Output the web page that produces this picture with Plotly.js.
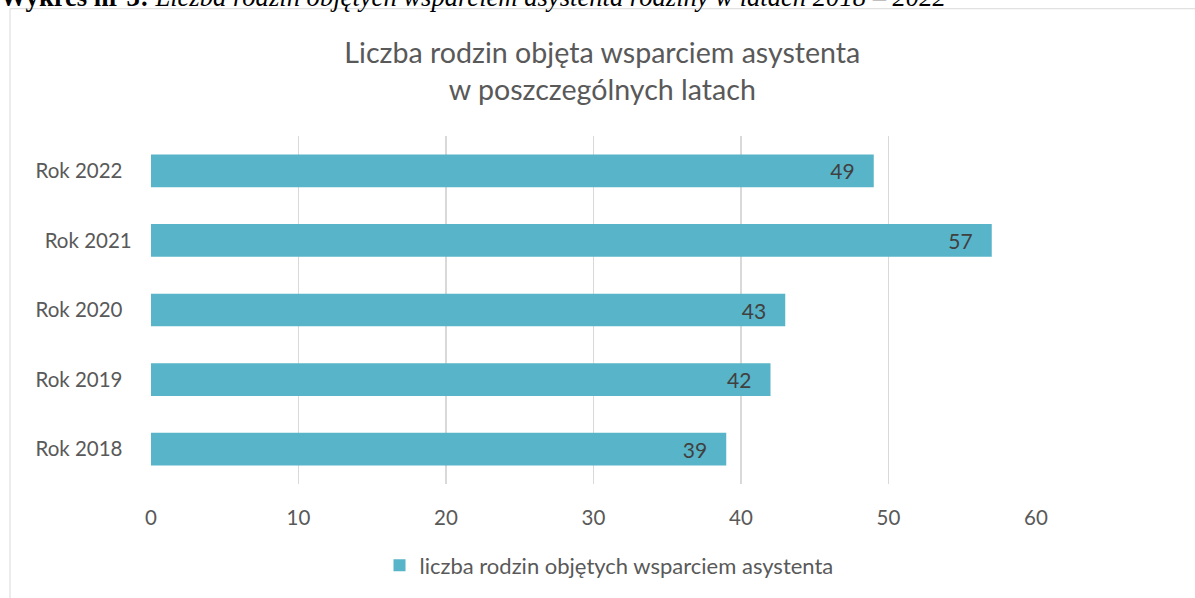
<!DOCTYPE html>
<html>
<head>
<meta charset="utf-8">
<script src="https://cdn.plot.ly/plotly-3.0.1.min.js"></script>
<style>
html,body{margin:0;padding:0;background:#fff;}
#chart{width:1195px;height:598px;}
</style>
</head>
<body>
<div id="chart"></div>
<script>
// Data
var categories = ['Rok 2018', 'Rok 2019', 'Rok 2020', 'Rok 2021', 'Rok 2022'];
var tickLabels = ['Rok 2018\u00a0\u00a0', 'Rok 2019\u00a0\u00a0', 'Rok 2020\u00a0\u00a0', 'Rok 2021\u200a', 'Rok 2022\u00a0\u00a0'];
var values = [39, 42, 43, 57, 49];
var seriesName = 'liczba rodzin objętych wsparciem asystenta';
var chartTitle = 'Liczba rodzin objęta wsparciem asystenta<br>w poszczególnych latach';
var captionBold = 'Wykres nr 3:';
var captionItalic = 'Liczba rodzin objętych wsparciem asystenta rodziny w latach 2018 – 2022';
var xTicks = [0, 10, 20, 30, 40, 50, 60];

var W = 1195, H = 598;
var mL = 151, mR = 159, mT = 136, mB = 112;
var pw = W - mL - mR, ph = H - mT - mB;
function px(x){ return (x - mL) / pw; }
function py(y){ return 1 - (y - mT) / ph; }

var barColor = '#58b4c8';
var font = 'Lato, "Open Sans", sans-serif';

var trace = {
  type: 'bar',
  orientation: 'h',
  y: categories,
  x: values,
  name: seriesName,
  marker: {color: barColor},
  text: values.map(String),
  texttemplate: '%{text}\u00a0\u00a0\u00a0',
  textposition: 'inside',
  insidetextanchor: 'end',
  textfont: {family: font, size: 21, color: '#404040'},
  cliponaxis: false,
  hoverinfo: 'none'
};

var layout = {
  width: W, height: H,
  margin: {l: mL, r: mR, t: mT, b: mB, pad: 0},
  paper_bgcolor: '#ffffff',
  plot_bgcolor: '#ffffff',
  font: {family: font, color: '#595959'},
  bargap: 0.53,
  title: {
    text: chartTitle,
    font: {family: font, size: 28.6, color: '#595959'},
    x: 0.51, xanchor: 'center', xref: 'paper',
    y: 1 - 63/H, yanchor: 'top', yref: 'container'
  },
  xaxis: {
    range: [0, 60],
    tickvals: xTicks,
    showgrid: true,
    gridcolor: '#d9d9d9',
    gridwidth: 1.6,
    zeroline: false,
    showline: false,
    ticks: '',
    ticklabelstandoff: 19,
    tickfont: {family: font, size: 20.5, color: '#595959'},
    fixedrange: true
  },
  yaxis: {
    type: 'category',
    categoryorder: 'array',
    categoryarray: categories,
    tickvals: categories,
    ticktext: tickLabels,
    showgrid: false,
    zeroline: false,
    showline: false,
    ticks: '',
    ticklabelstandoff: 17,
    tickfont: {family: font, size: 20.5, color: '#595959'},
    fixedrange: true
  },
  showlegend: true,
  legend: {
    orientation: 'h',
    x: px(609), xanchor: 'center',
    y: py(568), yanchor: 'middle',
    font: {family: font, size: 22, color: '#595959'},
    bgcolor: 'rgba(0,0,0,0)'
  },
  shapes: [{
    type: 'rect', xref: 'paper', yref: 'paper',
    x0: px(10), x1: px(1215), y0: py(620), y1: py(8),
    line: {color: '#d9d9d9', width: 1}, fillcolor: 'rgba(0,0,0,0)', layer: 'below'
  }],
  annotations: [{
    xref: 'paper', yref: 'paper',
    x: px(-2), y: py(13), xanchor: 'left', yanchor: 'bottom',
    showarrow: false,
    text: '<b>' + captionBold + '</b> <i>' + captionItalic + '</i>',
    font: {family: '"Liberation Serif", "Times New Roman", serif', size: 26.6, color: '#000000'}
  }]
};

Plotly.newPlot('chart', [trace], layout, {displayModeBar: false, staticPlot: true});
</script>
</body>
</html>
